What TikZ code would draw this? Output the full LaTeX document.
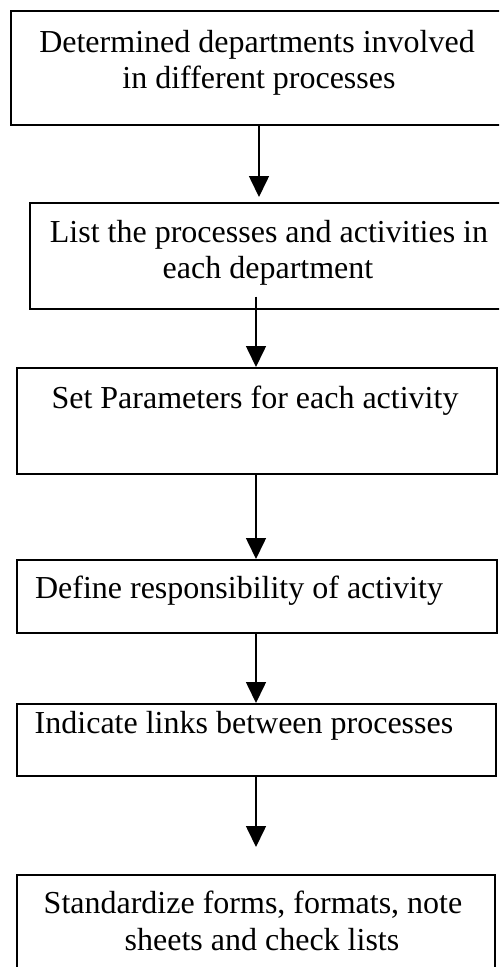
\documentclass[tikz,border=0pt]{standalone}
\usepackage{fontspec}
\setmainfont{Liberation Serif}
\usetikzlibrary{arrows.meta,calc}
\begin{document}
\begin{tikzpicture}[x=1pt,y=-1pt,
  box/.style={draw,line width=1.6pt,rectangle,inner sep=0pt,anchor=north west},
  txt/.style={inner sep=0pt,anchor=base,font=\fontsize{32}{36}\selectfont},
  arr/.style={line width=1.6pt,-{Triangle[width=20pt,length=21pt]}}]
\useasboundingbox (0,0) rectangle (499,967);
\clip (0,0) rectangle (499,967);
\fill[white] (0,0) rectangle (499,967);
\node[box,minimum width=500pt,minimum height=114pt] (b1) at (10,10) {};
\node[box,minimum width=481pt,minimum height=106pt] (b2) at (29,202) {};
\node[box,minimum width=480pt,minimum height=106pt] (b3) at (16,367) {};
\node[box,minimum width=480pt,minimum height=73pt] (b4) at (16,559) {};
\node[box,minimum width=479pt,minimum height=72pt] (b5) at (16,703) {};
\node[box,minimum width=478pt,minimum height=110pt] (b6) at (16,874) {};
\node[txt] (t1a) at (257,52) {Determined departments involved};
\node[txt] (t1b) at (259,88) {in different processes};
\node[txt] (t2a) at (269,242) {List the processes and activities in};
\node[txt] (t2b) at (268,278) {each department};
\node[txt] (t3) at (255,408) {Set Parameters for each activity};
\node[txt] (t4) at (239,598) {Define responsibility of activity};
\node[txt] (t5) at (244,733) {Indicate links between processes};
\node[txt] (t6a) at (253,913) {Standardize forms, formats, note};
\node[txt] (t6b) at (262,950) {sheets and check lists};
\coordinate (xa) at (259,0);
\coordinate (xb) at (256,0);
\draw[arr] (b1.south -| xa) -- ($(b2.north -| xa)+(0,-5)$);
\draw[arr] ($(b2.south -| xb)+(0,-13)$) -- (b3.north -| xb);
\draw[arr] (b3.south -| xb) -- (b4.north -| xb);
\draw[arr] (b4.south -| xb) -- (b5.north -| xb);
\draw[arr] (b5.south -| xb) -- ($(b6.north -| xb)+(0,-27)$);
\end{tikzpicture}
\end{document}
